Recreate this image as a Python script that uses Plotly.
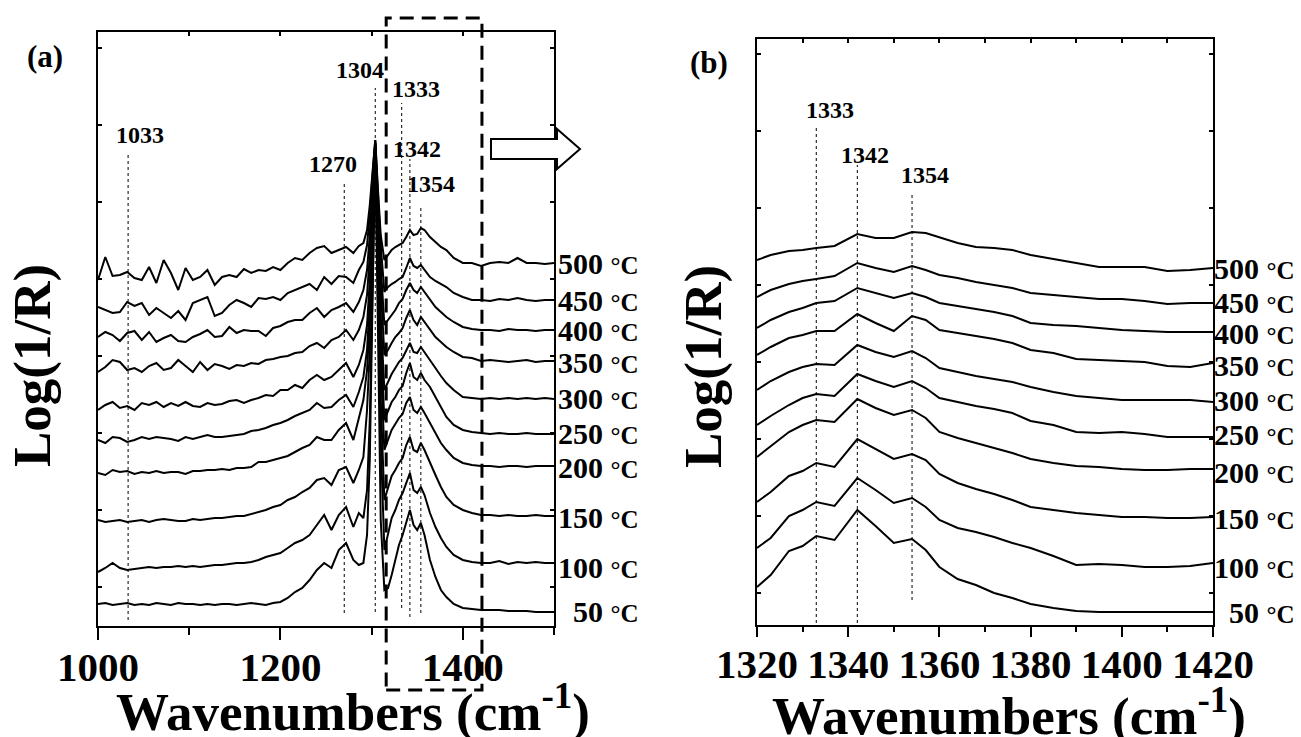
import plotly.graph_objects as go

W, H = 1301, 737
SERIF = "Liberation Serif"

# ---------------- data ----------------
TEMPS = [500, 450, 400, 350, 300, 250, 200, 150, 100, 50]
TEMP_UNIT = "°C"

# panel (a): full range, wavenumbers (cm-1)
WN_A = [1000, 1008, 1016, 1024, 1032, 1040, 1048, 1056, 1064, 1072,
        1080, 1088, 1096, 1104, 1112, 1120, 1128, 1136, 1144, 1152,
        1160, 1168, 1176, 1184, 1192, 1200, 1208, 1216, 1224, 1232,
        1240, 1248, 1256, 1264, 1272, 1280, 1286, 1291, 1295, 1298,
        1301, 1304, 1307, 1310, 1314, 1318, 1322, 1326, 1330, 1334,
        1338, 1342, 1346, 1350, 1354, 1358, 1364, 1370, 1376, 1382,
        1390, 1400, 1410, 1420, 1430, 1440, 1450, 1460, 1470, 1480,
        1490, 1500]

# Log(1/R), offset spectra (arbitrary units x 1e-3)
A_500 = [346, 369, 350, 351, 354, 348, 346, 359, 343, 366,
         353, 336, 358, 346, 349, 356, 341, 349, 351, 349,
         357, 353, 356, 355, 359, 356, 363, 368, 366, 373,
         378, 380, 373, 376, 379, 373, 380, 383, 396, 421,
         456, 486, 436, 391, 366, 371, 376, 379, 381, 383,
         389, 396, 391, 392, 398, 396, 389, 384, 379, 376,
         368, 363, 363, 360, 363, 364, 363, 368, 363, 363,
         362, 363]
A_450 = [319, 316, 313, 314, 324, 320, 323, 311, 318, 313,
         308, 315, 306, 323, 326, 329, 310, 313, 321, 326,
         323, 319, 328, 327, 329, 326, 333, 336, 339, 342,
         336, 349, 342, 350, 349, 343, 356, 364, 381, 411,
         451, 486, 431, 381, 334, 339, 342, 344, 347, 349,
         358, 368, 360, 358, 361, 356, 349, 345, 342, 339,
         333, 329, 326, 326, 325, 327, 326, 328, 326, 325,
         326, 326]
A_400 = [289, 294, 291, 285, 293, 295, 286, 294, 284, 288,
         291, 285, 284, 289, 292, 296, 289, 290, 299, 293,
         296, 295, 295, 290, 298, 300, 304, 306, 306, 313,
         318, 309, 316, 319, 323, 314, 324, 336, 356, 391,
         441, 484, 421, 361, 301, 306, 312, 316, 323, 327,
         336, 343, 336, 333, 339, 334, 326, 319, 314, 309,
         304, 299, 297, 296, 296, 295, 297, 296, 296, 295,
         296, 296]
A_350 = [254, 259, 266, 264, 256, 258, 254, 260, 263, 256,
         258, 266, 260, 254, 264, 256, 262, 260, 257, 261,
         260, 263, 262, 266, 267, 269, 270, 273, 274, 280,
         283, 278, 286, 289, 296, 286, 296, 309, 331, 371,
         431, 483, 411, 341, 271, 276, 283, 289, 293, 298,
         308, 316, 306, 301, 309, 304, 296, 289, 284, 279,
         274, 269, 268, 265, 266, 265, 264, 265, 266, 264,
         265, 265]
A_300 = [216, 221, 224, 218, 220, 216, 223, 221, 224, 219,
         223, 220, 224, 220, 219, 223, 221, 222, 225, 226,
         223, 226, 228, 231, 230, 236, 236, 241, 238, 246,
         251, 246, 249, 256, 263, 249, 261, 276, 301, 346,
         416, 482, 396, 311, 236, 244, 252, 258, 264, 268,
         276, 283, 274, 273, 279, 274, 266, 258, 250, 243,
         236, 229, 228, 227, 228, 227, 228, 227, 228, 227,
         228, 227]
A_250 = [186, 183, 189, 188, 184, 186, 189, 187, 189, 188,
         187, 185, 189, 187, 189, 191, 189, 189, 190, 191,
         192, 195, 196, 198, 201, 203, 206, 210, 213, 216,
         223, 218, 219, 226, 231, 219, 234, 249, 276, 326,
         401, 481, 381, 286, 206, 216, 224, 229, 236, 240,
         253, 263, 249, 246, 253, 246, 239, 229, 219, 209,
         201, 196, 194, 193, 192, 193, 192, 192, 193, 192,
         192, 192]
A_200 = [153, 151, 156, 154, 155, 152, 154, 153, 155, 153,
         154, 154, 152, 155, 155, 156, 156, 157, 156, 158,
         158, 159, 164, 164, 166, 168, 170, 174, 178, 181,
         189, 186, 186, 196, 203, 186, 208, 226, 256, 306,
         386, 480, 366, 261, 176, 186, 196, 202, 208, 212,
         223, 229, 216, 213, 219, 213, 203, 193, 183, 176,
         168, 163, 161, 160, 160, 159, 160, 160, 159, 160,
         160, 160]
A_150 = [106, 104, 105, 106, 104, 105, 106, 104, 106, 107,
         106, 105, 105, 107, 106, 107, 108, 108, 109, 110,
         110, 112, 114, 116, 119, 121, 126, 129, 134, 138,
         146, 148, 141, 156, 159, 143, 156, 169, 216, 276,
         371, 478, 346, 226, 126, 139, 150, 156, 163, 168,
         181, 189, 176, 174, 183, 176, 163, 151, 139, 129,
         121, 116, 113, 111, 111, 110, 111, 110, 110, 111,
         110, 110]
A_100 = [54, 58, 63, 58, 56, 57, 58, 59, 58, 59,
         59, 60, 59, 60, 59, 60, 61, 61, 62, 63,
         63, 64, 66, 69, 71, 73, 78, 83, 86, 91,
         101, 111, 96, 111, 119, 99, 113, 108, 136, 206,
         336, 476, 326, 186, 76, 93, 108, 116, 126, 133,
         144, 153, 136, 133, 139, 131, 113, 99, 88, 79,
         71, 66, 64, 63, 63, 65, 62, 64, 63, 64,
         63, 63]
A_50 = [22, 23, 21, 22, 23, 21, 22, 21, 23, 22,
        21, 23, 22, 22, 21, 22, 21, 22, 22, 21,
        22, 23, 22, 21, 23, 24, 28, 34, 38, 46,
        56, 63, 58, 76, 83, 66, 61, 63, 91, 166,
        326, 474, 296, 106, 36, 38, 51, 66, 81, 91,
        104, 116, 101, 96, 103, 91, 66, 49, 36, 29,
        22, 18, 17, 16, 16, 16, 15, 15, 15, 14,
        14, 14]

# panel (b): zoomed range 1320-1420 cm-1
WN_B = [1320, 1323, 1327, 1330, 1333, 1337, 1342, 1346, 1350, 1354,
        1357, 1360, 1364, 1368, 1372, 1376, 1380, 1385, 1390, 1395,
        1400, 1405, 1410, 1415, 1420]
B_500 = [365, 370, 374, 375, 377, 379, 391, 387, 387, 393, 392, 388, 382, 378, 377, 375, 370, 366, 362, 358, 358, 358, 354, 355, 357]
B_450 = [328, 335, 341, 344, 346, 349, 362, 357, 353, 359, 355, 350, 347, 343, 340, 337, 332, 330, 328, 326, 326, 324, 321, 322, 322]
B_400 = [297, 305, 313, 317, 322, 324, 337, 332, 327, 332, 328, 322, 319, 316, 313, 309, 302, 300, 299, 297, 295, 294, 293, 293, 293]
B_350 = [270, 278, 287, 290, 294, 294, 311, 302, 294, 309, 305, 295, 292, 289, 286, 282, 275, 272, 266, 265, 264, 263, 259, 258, 262]
B_300 = [235, 244, 253, 258, 261, 260, 280, 273, 268, 274, 267, 257, 253, 249, 246, 243, 238, 233, 229, 227, 225, 225, 225, 225, 223]
B_250 = [200, 209, 220, 227, 231, 229, 251, 244, 238, 244, 237, 227, 223, 219, 216, 212, 204, 200, 193, 192, 193, 191, 188, 188, 188]
B_200 = [168, 179, 193, 200, 205, 203, 226, 217, 210, 215, 207, 193, 187, 182, 177, 172, 166, 162, 159, 158, 156, 155, 155, 156, 156]
B_150 = [123, 133, 149, 154, 162, 158, 186, 176, 166, 171, 165, 151, 142, 136, 131, 125, 118, 115, 112, 110, 108, 108, 107, 107, 108]
B_100 = [77, 87, 109, 115, 123, 119, 147, 135, 122, 127, 118, 105, 97, 93, 88, 82, 77, 69, 60, 61, 60, 58, 58, 59, 62]
B_50 = [38, 50, 74, 79, 89, 85, 115, 99, 82, 86, 75, 58, 46, 40, 32, 27, 21, 17, 14, 13, 13, 13, 13, 13, 13]

PEAKS_A = [1033, 1270, 1304, 1333, 1342, 1354]
PEAKS_B = [1333, 1342, 1354]

A_SERIES = dict(zip(TEMPS, [A_500, A_450, A_400, A_350, A_300, A_250, A_200, A_150, A_100, A_50]))
B_SERIES = dict(zip(TEMPS, [B_500, B_450, B_400, B_350, B_300, B_250, B_200, B_150, B_100, B_50]))

# ---------------- layout helpers (pixel -> paper) ----------------
def fx(x):
    return x / W

def fy(y):
    return 1 - y / H

# peak marker geometry: (y_bottom, y_top) of dashed line, label x, label y
PEAK_LINES_A = {1033: (6, 471), 1270: (13, 444), 1304: (14, 538), 1333: (18, 523), 1342: (9, 467), 1354: (13, 421)}
PEAK_LABELS_A = {1033: (1046, 491), 1270: (1258, 462), 1304: (1287, 556), 1333: (1349, 537), 1342: (1350, 477), 1354: (1365, 442)}
PEAK_LINES_B = {1333: (2, 500), 1342: (2, 460), 1354: (25, 430)}
PEAK_LABELS_B = {1333: (1336, 515), 1342: (1343.6, 470), 1354: (1356.8, 450)}
TEMP_LABEL_Y_A = [363, 326, 296, 264, 228, 193, 159, 109, 59, 15]
TEMP_LABEL_Y_B = [357, 323, 292, 260, 225, 191, 153, 107, 58, 13]

fig = go.Figure()
for t in TEMPS:
    fig.add_trace(go.Scatter(x=WN_A, y=A_SERIES[t], mode="lines",
                             line=dict(color="black", width=2),
                             xaxis="x", yaxis="y", showlegend=False, hoverinfo="skip"))
for t in TEMPS:
    fig.add_trace(go.Scatter(x=WN_B, y=B_SERIES[t], mode="lines",
                             line=dict(color="black", width=2),
                             xaxis="x2", yaxis="y2", showlegend=False, hoverinfo="skip"))
# carriers for the inward top tick axes
fig.add_trace(go.Scatter(x=[], y=[], xaxis="x3", yaxis="y", showlegend=False))
fig.add_trace(go.Scatter(x=[], y=[], xaxis="x4", yaxis="y2", showlegend=False))

tickfont = dict(family=SERIF, size=41, color="black", weight="bold")
common_x = dict(showgrid=False, zeroline=False, showline=True, linecolor="black", linewidth=2,
                mirror=True, ticks="outside", tickwidth=2, tickcolor="black", tickfont=tickfont,
                automargin=False, ticklabelstandoff=-8)
common_y = dict(showgrid=False, zeroline=False, showline=True, linecolor="black", linewidth=2,
                mirror="ticks", ticks="inside", ticklen=4, tickwidth=1.5, tickcolor="black",
                showticklabels=False, automargin=False)
top_x = dict(showgrid=False, zeroline=False, showline=False, ticks="inside", ticklen=4,
             tickwidth=1.5, tickcolor="black", showticklabels=False, side="top", automargin=False)

fig.update_layout(
    template="none",
    width=W, height=H, margin=dict(l=0, r=0, t=0, b=0, autoexpand=False),
    paper_bgcolor="white", plot_bgcolor="white", showlegend=False,
    xaxis=dict(domain=[fx(98), fx(554)], range=[1000, 1500], anchor="y",
               tick0=1000, dtick=200, ticklen=12,
               minor=dict(tick0=1000, dtick=100, ticks="outside", ticklen=7, tickwidth=2,
                          tickcolor="black", showgrid=False),
               **common_x),
    yaxis=dict(domain=[fy(626), fy(32)], range=[0, 594], anchor="x", tick0=39, dtick=77, **common_y),
    xaxis2=dict(domain=[fx(757), fx(1213)], range=[1320, 1420], anchor="y2",
                tick0=1320, dtick=20, ticklen=10,
                minor=dict(tick0=1320, dtick=10, ticks="outside", ticklen=5, tickwidth=2,
                           tickcolor="black", showgrid=False),
                **common_x),
    yaxis2=dict(domain=[fy(625), fy(39)], range=[0, 586], anchor="x2", tick0=32, dtick=77, **common_y),
    xaxis3=dict(overlaying="x", anchor="y", range=[1000, 1500], tick0=1000, dtick=100, **top_x),
    xaxis4=dict(overlaying="x2", anchor="y2", range=[1320, 1420], tick0=1320, dtick=10, **top_x),
)

shapes = []
annotations = []

def ann(**kw):
    base = dict(showarrow=False, xanchor="center", yanchor="middle")
    base.update(kw)
    annotations.append(base)

# dashed peak markers and labels
for p in PEAKS_A:
    y0, y1 = PEAK_LINES_A[p]
    shapes.append(dict(type="line", xref="x", yref="y", x0=p, x1=p, y0=y0, y1=y1,
                       line=dict(color="black", width=1, dash="3px,3px")))
    lx, ly = PEAK_LABELS_A[p]
    ann(xref="x", yref="y", x=lx, y=ly, text=str(p),
        font=dict(family=SERIF, size=24, color="black", weight="bold"))
for p in PEAKS_B:
    y0, y1 = PEAK_LINES_B[p]
    shapes.append(dict(type="line", xref="x2", yref="y2", x0=p, x1=p, y0=y0, y1=y1,
                       line=dict(color="black", width=1, dash="3px,3px")))
    lx, ly = PEAK_LABELS_B[p]
    ann(xref="x2", yref="y2", x=lx, y=ly, text=str(p),
        font=dict(family=SERIF, size=24, color="black", weight="bold"))

# zoom box (panel a -> panel b) and hollow arrow
shapes.append(dict(type="rect", xref="x", yref="paper", x0=1316, x1=1421, y0=fy(690), y1=fy(18),
                   line=dict(color="black", width=3, dash="14px,8px"), fillcolor="rgba(0,0,0,0)",
                   layer="above"))
arrow_pts = [(491, 139), (557, 139), (557, 129), (580, 149), (557, 169), (557, 159), (491, 159)]
path = "M " + " L ".join(f"{fx(x):.5f},{fy(y):.5f}" for x, y in arrow_pts) + " Z"
shapes.append(dict(type="path", xref="paper", yref="paper", path=path,
                   line=dict(color="black", width=2), fillcolor="white", layer="above"))

# temperature labels
for t, ya, yb in zip(TEMPS, TEMP_LABEL_Y_A, TEMP_LABEL_Y_B):
    txt = f"{t} <span style='font-size:25px'>{TEMP_UNIT}</span>"
    lab_font = dict(family=SERIF, size=30, color="black", weight="bold")
    ann(xref="paper", yref="y", x=fx(641), y=ya, xanchor="right", text=txt, font=lab_font)
    ann(xref="paper", yref="y2", x=fx(1297), y=yb, xanchor="right", text=txt, font=lab_font)

# panel letters
ann(xref="paper", yref="paper", x=fx(45), y=fy(57), text="(a)",
    font=dict(family=SERIF, size=31, color="black", weight="bold"))
ann(xref="paper", yref="paper", x=fx(709), y=fy(63), text="(b)",
    font=dict(family=SERIF, size=31, color="black", weight="bold"))

# axis titles
title_font = dict(family=SERIF, size=53, color="black", weight="bold")
for cx, cy in [(33, 366), (703, 367)]:
    ann(xref="paper", yref="paper", x=fx(cx), y=fy(cy), text="Log(1/R)", textangle=-90, font=title_font)
for cx, cy in [(353, 708), (1009, 712)]:
    ann(xref="paper", yref="paper", x=fx(cx), y=fy(cy), text="Wavenumbers (cm<sup>-1</sup>)", font=title_font)

fig.update_layout(shapes=shapes, annotations=annotations)
fig.write_html("out.html")
